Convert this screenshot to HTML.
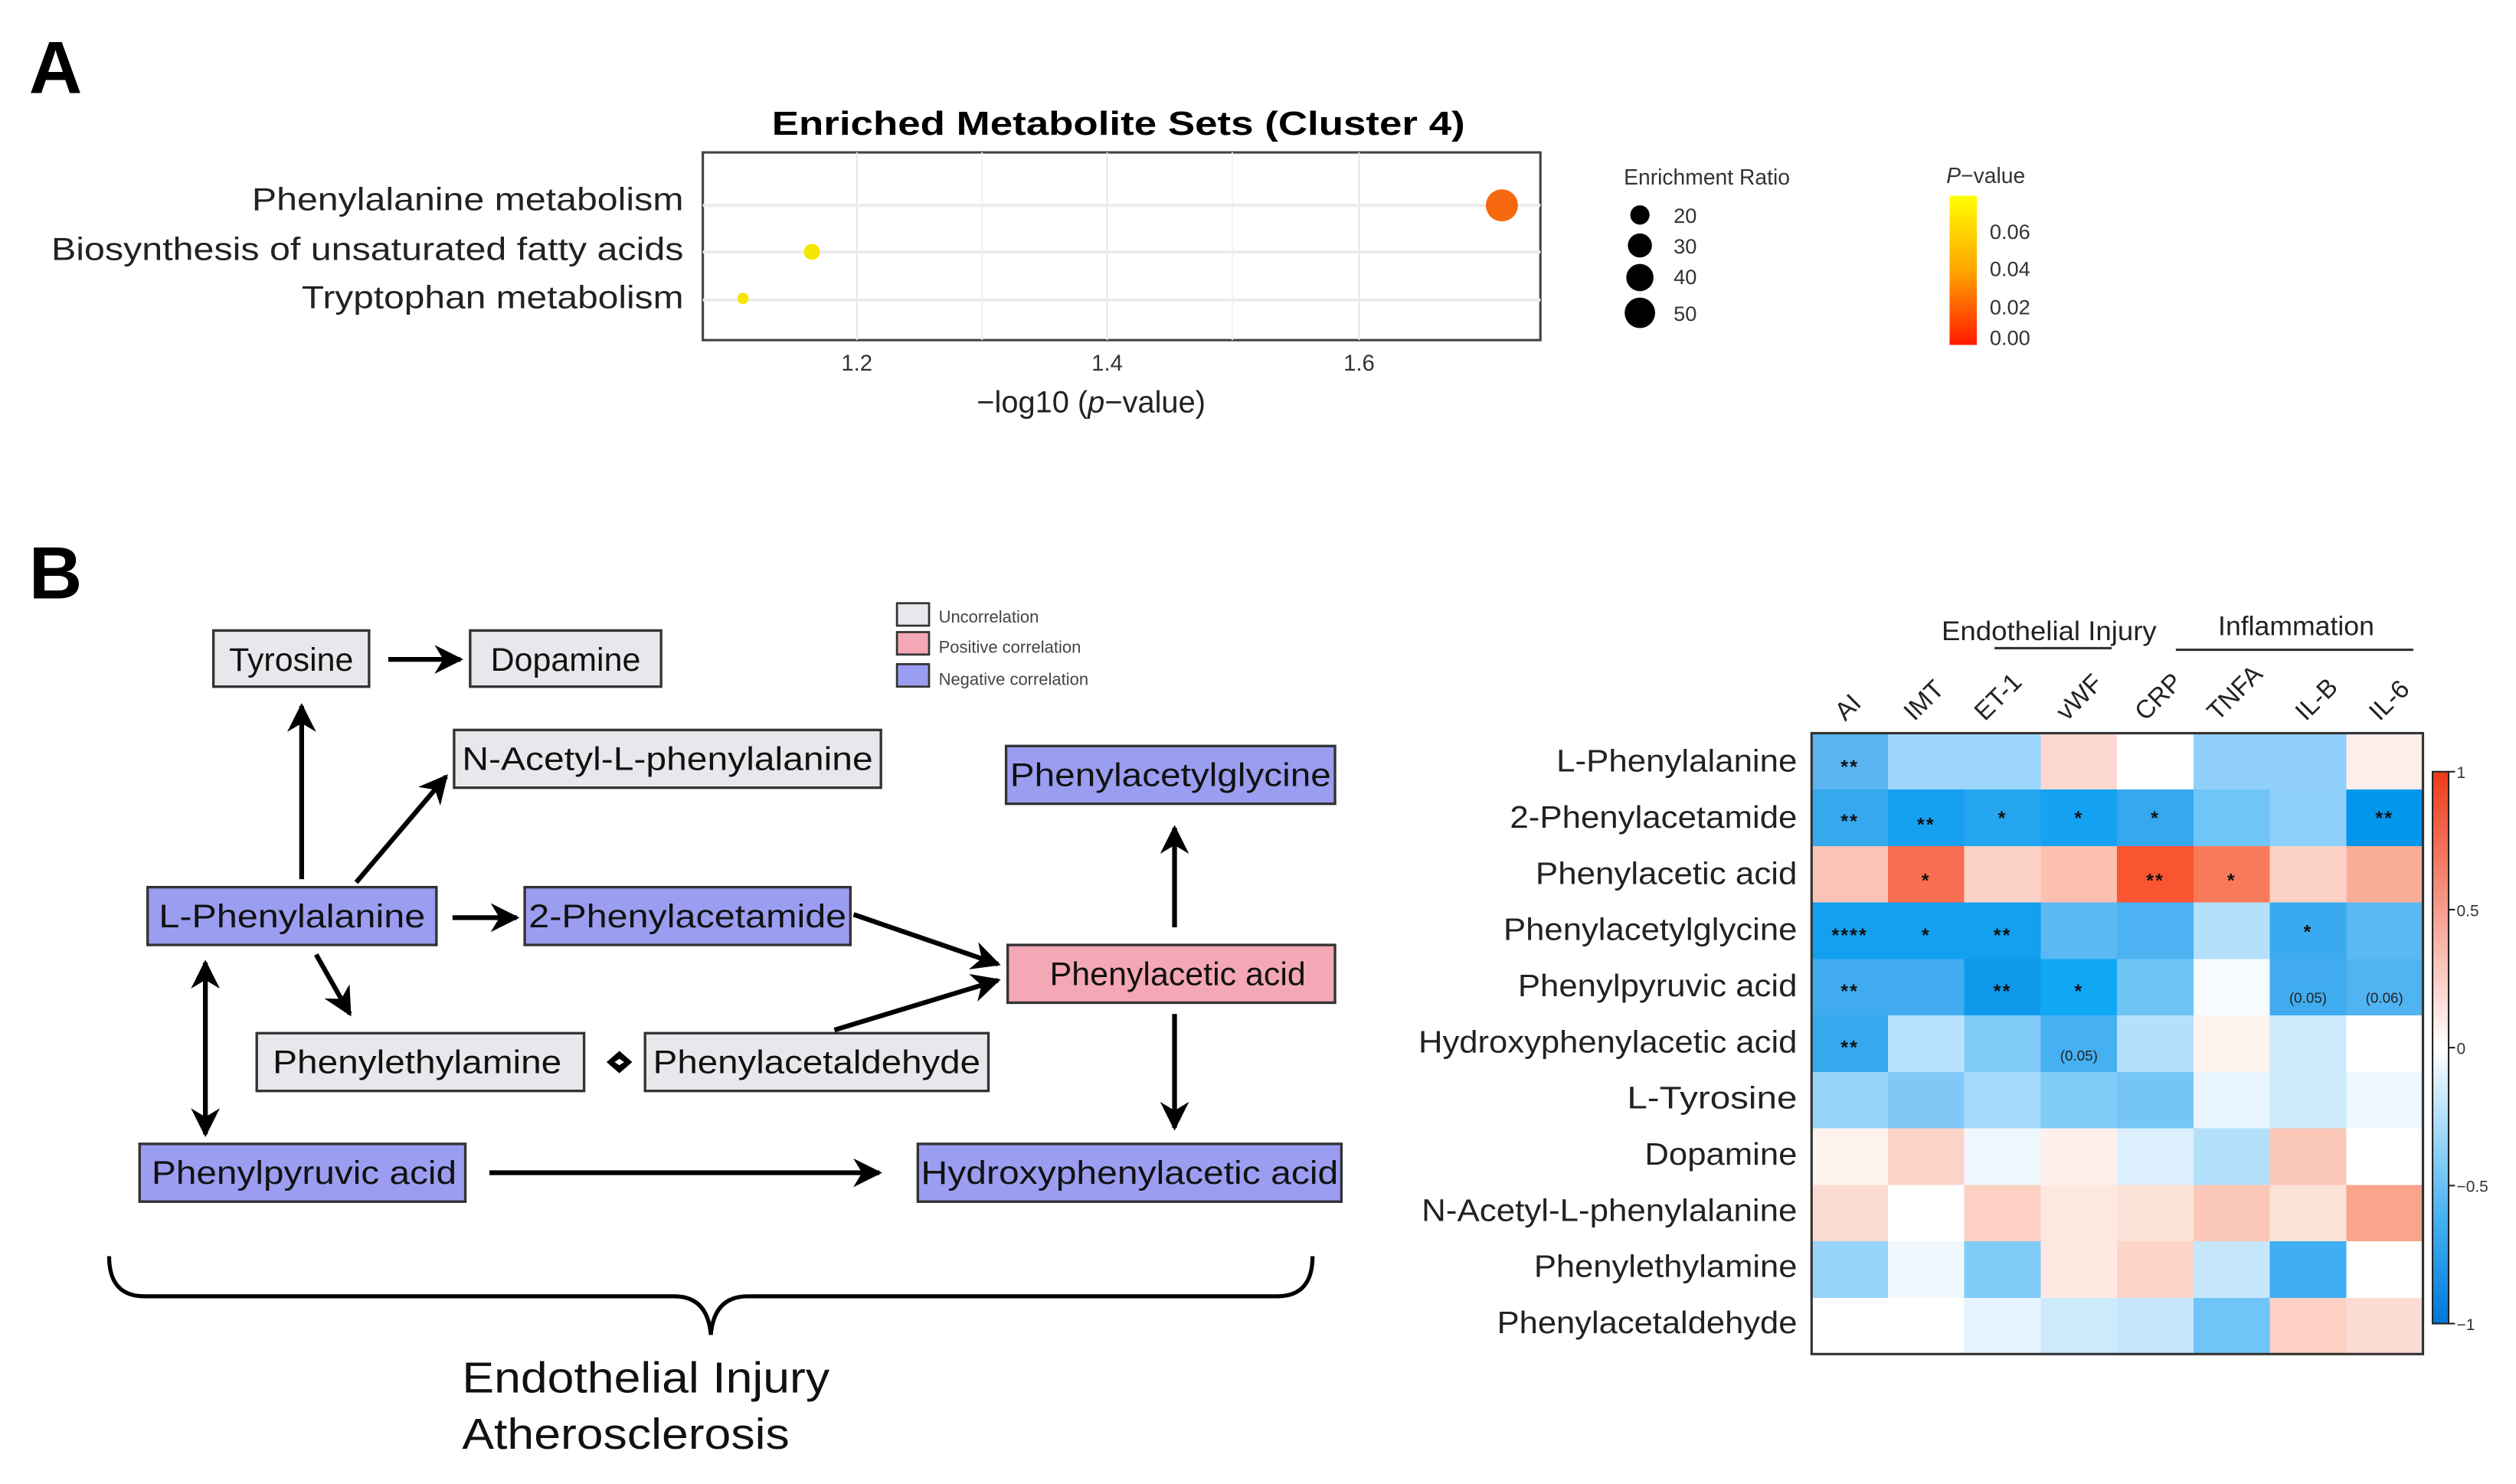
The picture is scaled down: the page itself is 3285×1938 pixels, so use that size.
<!DOCTYPE html>
<html><head><meta charset="utf-8"><style>
html,body{margin:0;padding:0;background:#fff;}
svg{display:block;font-family:"Liberation Sans",Arial,sans-serif;}
</style></head><body>
<svg width="3285" height="1938" viewBox="0 0 1568 925" preserveAspectRatio="none" xmlns="http://www.w3.org/2000/svg">
<defs>
<marker id="ah" viewBox="0 0 10 10" refX="9" refY="5" markerWidth="6" markerHeight="6" orient="auto-start-reverse"><path d="M0,0 L10,5 L0,10 L3,5 z" fill="#000"/></marker>
<linearGradient id="pv" x1="0" y1="0" x2="0" y2="1"><stop offset="0" stop-color="#ffff00"/><stop offset="0.5" stop-color="#ffa500"/><stop offset="1" stop-color="#ff1a00"/></linearGradient>
<linearGradient id="cb" x1="0" y1="0" x2="0" y2="1"><stop offset="0" stop-color="#ee3a1a"/><stop offset="0.5" stop-color="#ffffff"/><stop offset="0.8" stop-color="#4ab4f2"/><stop offset="1" stop-color="#0077d8"/></linearGradient>
</defs>
<rect width="1568" height="925" fill="#fff"/>
<!-- Panel A -->
<text x="18" y="58" font-size="46" font-weight="bold">A</text>
<text x="697" y="84" font-size="21" font-weight="bold" text-anchor="middle" textLength="432" lengthAdjust="spacingAndGlyphs">Enriched Metabolite Sets (Cluster 4)</text>
<rect x="438" y="95" width="522" height="117" fill="#fff" stroke="#444" stroke-width="1.5"/>
<g stroke="#e6e6e6" stroke-width="1">
<line x1="534" y1="95" x2="534" y2="212"/><line x1="690" y1="95" x2="690" y2="212"/><line x1="847" y1="95" x2="847" y2="212"/>
<line x1="612" y1="95" x2="612" y2="212" stroke="#f2f2f2"/><line x1="768" y1="95" x2="768" y2="212" stroke="#f2f2f2"/>
</g>
<g stroke="#ececec" stroke-width="2"><line x1="438" y1="128" x2="960" y2="128"/><line x1="438" y1="157" x2="960" y2="157"/><line x1="438" y1="187" x2="960" y2="187"/></g>
<circle cx="936" cy="128" r="10" fill="#f5680e"/>
<circle cx="506" cy="157" r="5" fill="#f5e600"/>
<circle cx="463" cy="186" r="3.5" fill="#f5e600"/>
<g font-size="20" text-anchor="end" fill="#222">
<text x="426" y="131" textLength="269" lengthAdjust="spacingAndGlyphs">Phenylalanine metabolism</text>
<text x="426" y="162" textLength="394" lengthAdjust="spacingAndGlyphs">Biosynthesis of unsaturated fatty acids</text>
<text x="426" y="192" textLength="238" lengthAdjust="spacingAndGlyphs">Tryptophan metabolism</text>
</g>
<g font-size="14" text-anchor="middle" fill="#333"><text x="534" y="231">1.2</text><text x="690" y="231">1.4</text><text x="847" y="231">1.6</text></g>
<text x="680" y="257" font-size="19" text-anchor="middle" fill="#222">−log10 (<tspan font-style="italic">p</tspan>−value)</text>
<text x="1012" y="115" font-size="13.5" fill="#333">Enrichment Ratio</text>
<circle cx="1022" cy="134" r="6" fill="#000"/><circle cx="1022" cy="153" r="7.5" fill="#000"/><circle cx="1022" cy="173" r="8.5" fill="#000"/><circle cx="1022" cy="195" r="9.5" fill="#000"/>
<g font-size="13" fill="#333"><text x="1043" y="139">20</text><text x="1043" y="158">30</text><text x="1043" y="177">40</text><text x="1043" y="200">50</text></g>
<text x="1213" y="114" font-size="13.5" fill="#333"><tspan font-style="italic">P</tspan>−value</text>
<rect x="1215" y="122" width="17" height="93" fill="url(#pv)"/>
<g font-size="13" fill="#333"><text x="1240" y="149">0.06</text><text x="1240" y="172">0.04</text><text x="1240" y="196">0.02</text><text x="1240" y="215">0.00</text></g>

<!-- Panel B -->
<text x="18" y="373" font-size="46" font-weight="bold">B</text>
<g stroke="#333" stroke-width="1.3">
<rect x="559" y="376" width="20" height="14" fill="#e8e8ec"/>
<rect x="559" y="394" width="20" height="14" fill="#f4a7b4"/>
<rect x="559" y="414" width="20" height="14" fill="#9a9df0"/>
</g>
<g font-size="10.5" fill="#444"><text x="585" y="388">Uncorrelation</text><text x="585" y="407">Positive correlation</text><text x="585" y="427">Negative correlation</text></g>

<g stroke="#333" stroke-width="1.6">
<rect x="133" y="393" width="97" height="35" fill="#e8e8ec"/>
<rect x="293" y="393" width="119" height="35" fill="#e8e8ec"/>
<rect x="283" y="455" width="266" height="36" fill="#e8e8ec"/>
<rect x="92" y="553" width="180" height="36" fill="#9a9df0"/>
<rect x="327" y="553" width="203" height="36" fill="#9a9df0"/>
<rect x="627" y="465" width="205" height="36" fill="#9a9df0"/>
<rect x="628" y="589" width="204" height="36" fill="#f4a7b4"/>
<rect x="160" y="644" width="204" height="36" fill="#e8e8ec"/>
<rect x="402" y="644" width="214" height="36" fill="#e8e8ec"/>
<rect x="87" y="713" width="203" height="36" fill="#9a9df0"/>
<rect x="572" y="713" width="264" height="36" fill="#9a9df0"/>
</g>
<g font-size="20.5" text-anchor="middle" fill="#111">
<text x="181.5" y="418">Tyrosine</text>
<text x="352.5" y="418">Dopamine</text>
<text x="416" y="480" textLength="256" lengthAdjust="spacingAndGlyphs">N-Acetyl-L-phenylalanine</text>
<text x="182" y="578" textLength="166" lengthAdjust="spacingAndGlyphs">L-Phenylalanine</text>
<text x="428.5" y="578" textLength="198" lengthAdjust="spacingAndGlyphs">2-Phenylacetamide</text>
<text x="729.5" y="490" textLength="200" lengthAdjust="spacingAndGlyphs">Phenylacetylglycine</text>
<text x="734" y="614">Phenylacetic acid</text>
<text x="260" y="669" textLength="180" lengthAdjust="spacingAndGlyphs">Phenylethylamine</text>
<text x="509" y="669" textLength="204" lengthAdjust="spacingAndGlyphs">Phenylacetaldehyde</text>
<text x="189.5" y="738" textLength="190" lengthAdjust="spacingAndGlyphs">Phenylpyruvic acid</text>
<text x="704" y="738" textLength="260" lengthAdjust="spacingAndGlyphs">Hydroxyphenylacetic acid</text>
</g>
<g stroke="#000" stroke-width="3" fill="none" marker-end="url(#ah)">
<line x1="242" y1="411" x2="287" y2="411"/>
<line x1="188" y1="548" x2="188" y2="440"/>
<line x1="222" y1="550" x2="278" y2="484"/>
<line x1="282" y1="572" x2="322" y2="572"/>
<line x1="197" y1="595" x2="218" y2="632"/>
<line x1="128" y1="600" x2="128" y2="707" marker-start="url(#ah)"/>
<line x1="532" y1="570" x2="622" y2="601"/>
<line x1="520" y1="642" x2="622" y2="611"/>
<line x1="732" y1="578" x2="732" y2="516"/>
<line x1="732" y1="632" x2="732" y2="703"/>
<line x1="305" y1="731" x2="548" y2="731"/>
</g>
<path d="M378,662 L386,655 L394,662 L386,669 z" fill="#000"/>
<path d="M383,662 L386,660 L389,662 L386,664z" fill="#fff"/>
<path d="M68,783 Q68,808 90,808 L420,808 Q441,808 443,832 Q445,808 466,808 L796,808 Q818,808 818,783" fill="none" stroke="#000" stroke-width="2.5"/>
<g font-size="27" fill="#111"><text x="288" y="868" textLength="229" lengthAdjust="spacingAndGlyphs">Endothelial Injury</text><text x="288" y="903" textLength="204" lengthAdjust="spacingAndGlyphs">Atherosclerosis</text></g>

<!-- Heatmap -->
<text x="1277" y="399" font-size="17" text-anchor="middle" fill="#222" textLength="134" lengthAdjust="spacingAndGlyphs">Endothelial Injury</text>
<text x="1431" y="396" font-size="17" text-anchor="middle" fill="#222">Inflammation</text>
<line x1="1243" y1="404" x2="1316" y2="404" stroke="#333" stroke-width="1.5"/>
<line x1="1356" y1="405" x2="1504" y2="405" stroke="#333" stroke-width="1.5"/>
<g font-size="16" fill="#222">
<text transform="translate(1150,450) rotate(-45)">AI</text>
<text transform="translate(1193,450) rotate(-45)">IMT</text>
<text transform="translate(1237,450) rotate(-45)">ET-1</text>
<text transform="translate(1288,450) rotate(-45)">vWF</text>
<text transform="translate(1337,450) rotate(-45)">CRP</text>
<text transform="translate(1382,450) rotate(-45)">TNFA</text>
<text transform="translate(1437,450) rotate(-45)">IL-B</text>
<text transform="translate(1483,450) rotate(-45)">IL-6</text>
</g>
<g font-size="19.5" text-anchor="end" fill="#222" lengthAdjust="spacingAndGlyphs">
<text x="1120" y="481" textLength="150" lengthAdjust="spacingAndGlyphs">L-Phenylalanine</text>
<text x="1120" y="516" textLength="179" lengthAdjust="spacingAndGlyphs">2-Phenylacetamide</text>
<text x="1120" y="551" textLength="163" lengthAdjust="spacingAndGlyphs">Phenylacetic acid</text>
<text x="1120" y="586" textLength="183" lengthAdjust="spacingAndGlyphs">Phenylacetylglycine</text>
<text x="1120" y="621" textLength="174" lengthAdjust="spacingAndGlyphs">Phenylpyruvic acid</text>
<text x="1120" y="656" textLength="236" lengthAdjust="spacingAndGlyphs">Hydroxyphenylacetic acid</text>
<text x="1120" y="691" textLength="106" lengthAdjust="spacingAndGlyphs">L-Tyrosine</text>
<text x="1120" y="726" textLength="95" lengthAdjust="spacingAndGlyphs">Dopamine</text>
<text x="1120" y="761" textLength="234" lengthAdjust="spacingAndGlyphs">N-Acetyl-L-phenylalanine</text>
<text x="1120" y="796" textLength="164" lengthAdjust="spacingAndGlyphs">Phenylethylamine</text>
<text x="1120" y="831" textLength="187" lengthAdjust="spacingAndGlyphs">Phenylacetaldehyde</text>
</g>
<g transform="translate(1129,457)">
<g shape-rendering="crispEdges">
<rect x="0" y="0" width="48" height="36" fill="#5ab4f0"/><rect x="47.6" y="0" width="48" height="36" fill="#9dd6fb"/><rect x="95.2" y="0" width="48" height="36" fill="#9dd6fb"/><rect x="142.8" y="0" width="48" height="36" fill="#fcd8d0"/><rect x="190.4" y="0" width="48" height="36" fill="#ffffff"/><rect x="238" y="0" width="48" height="36" fill="#90d0fb"/><rect x="285.6" y="0" width="48" height="36" fill="#90d0fb"/><rect x="333.2" y="0" width="48" height="36" fill="#fdeee9"/>
<rect x="0" y="35.2" width="48" height="36" fill="#35a8ee"/><rect x="47.6" y="35.2" width="48" height="36" fill="#15a0f0"/><rect x="95.2" y="35.2" width="48" height="36" fill="#25a5f0"/><rect x="142.8" y="35.2" width="48" height="36" fill="#15a2f2"/><rect x="190.4" y="35.2" width="48" height="36" fill="#35a8ee"/><rect x="238" y="35.2" width="48" height="36" fill="#70c5f8"/><rect x="285.6" y="35.2" width="48" height="36" fill="#8fd0fa"/><rect x="333.2" y="35.2" width="48" height="36" fill="#0096ea"/>
<rect x="0" y="70.4" width="48" height="36" fill="#fbc3b5"/><rect x="47.6" y="70.4" width="48" height="36" fill="#f86e50"/><rect x="95.2" y="70.4" width="48" height="36" fill="#fcd2c6"/><rect x="142.8" y="70.4" width="48" height="36" fill="#fbc0b0"/><rect x="190.4" y="70.4" width="48" height="36" fill="#f85530"/><rect x="238" y="70.4" width="48" height="36" fill="#f87a5a"/><rect x="285.6" y="70.4" width="48" height="36" fill="#fcd2c6"/><rect x="333.2" y="70.4" width="48" height="36" fill="#faae98"/>
<rect x="0" y="105.6" width="48" height="36" fill="#12a0ef"/><rect x="47.6" y="105.6" width="48" height="36" fill="#12a0ef"/><rect x="95.2" y="105.6" width="48" height="36" fill="#12a0ef"/><rect x="142.8" y="105.6" width="48" height="36" fill="#5ab8f2"/><rect x="190.4" y="105.6" width="48" height="36" fill="#4cb2f2"/><rect x="238" y="105.6" width="48" height="36" fill="#b5e0fb"/><rect x="285.6" y="105.6" width="48" height="36" fill="#3aaaf0"/><rect x="333.2" y="105.6" width="48" height="36" fill="#5ab8f2"/>
<rect x="0" y="140.8" width="48" height="36" fill="#40acef"/><rect x="47.6" y="140.8" width="48" height="36" fill="#40acef"/><rect x="95.2" y="140.8" width="48" height="36" fill="#1099ea"/><rect x="142.8" y="140.8" width="48" height="36" fill="#10a8f5"/><rect x="190.4" y="140.8" width="48" height="36" fill="#6ec4f5"/><rect x="238" y="140.8" width="48" height="36" fill="#f5fbff"/><rect x="285.6" y="140.8" width="48" height="36" fill="#40acef"/><rect x="333.2" y="140.8" width="48" height="36" fill="#50b3f2"/>
<rect x="0" y="176" width="48" height="36" fill="#35a8ee"/><rect x="47.6" y="176" width="48" height="36" fill="#b8e2fb"/><rect x="95.2" y="176" width="48" height="36" fill="#80cbf8"/><rect x="142.8" y="176" width="48" height="36" fill="#45b0f2"/><rect x="190.4" y="176" width="48" height="36" fill="#b5e0fb"/><rect x="238" y="176" width="48" height="36" fill="#fef3ee"/><rect x="285.6" y="176" width="48" height="36" fill="#cdeafc"/><rect x="333.2" y="176" width="48" height="36" fill="#ffffff"/>
<rect x="0" y="211.2" width="48" height="36" fill="#98d3fa"/><rect x="47.6" y="211.2" width="48" height="36" fill="#80c9f7"/><rect x="95.2" y="211.2" width="48" height="36" fill="#a5d9fb"/><rect x="142.8" y="211.2" width="48" height="36" fill="#80cbf8"/><rect x="190.4" y="211.2" width="48" height="36" fill="#75c6f7"/><rect x="238" y="211.2" width="48" height="36" fill="#e8f5fe"/><rect x="285.6" y="211.2" width="48" height="36" fill="#cdeafc"/><rect x="333.2" y="211.2" width="48" height="36" fill="#eef7fd"/>
<rect x="0" y="246.4" width="48" height="36" fill="#fef3ef"/><rect x="47.6" y="246.4" width="48" height="36" fill="#fcd5ca"/><rect x="95.2" y="246.4" width="48" height="36" fill="#eef7fd"/><rect x="142.8" y="246.4" width="48" height="36" fill="#fef0ec"/><rect x="190.4" y="246.4" width="48" height="36" fill="#dbeffd"/><rect x="238" y="246.4" width="48" height="36" fill="#b5e0fb"/><rect x="285.6" y="246.4" width="48" height="36" fill="#fbc8b8"/><rect x="333.2" y="246.4" width="48" height="36" fill="#ffffff"/>
<rect x="0" y="281.6" width="48" height="36" fill="#fcdcd2"/><rect x="47.6" y="281.6" width="48" height="36" fill="#ffffff"/><rect x="95.2" y="281.6" width="48" height="36" fill="#fcd0c2"/><rect x="142.8" y="281.6" width="48" height="36" fill="#fee9e2"/><rect x="190.4" y="281.6" width="48" height="36" fill="#fde2d8"/><rect x="238" y="281.6" width="48" height="36" fill="#fbc8b8"/><rect x="285.6" y="281.6" width="48" height="36" fill="#fde2d8"/><rect x="333.2" y="281.6" width="48" height="36" fill="#f8a58c"/>
<rect x="0" y="316.8" width="48" height="36" fill="#98d3fa"/><rect x="47.6" y="316.8" width="48" height="36" fill="#f0f8fe"/><rect x="95.2" y="316.8" width="48" height="36" fill="#80cbf8"/><rect x="142.8" y="316.8" width="48" height="36" fill="#fee9e2"/><rect x="190.4" y="316.8" width="48" height="36" fill="#fcd5c8"/><rect x="238" y="316.8" width="48" height="36" fill="#c5e7fc"/><rect x="285.6" y="316.8" width="48" height="36" fill="#40aef2"/><rect x="333.2" y="316.8" width="48" height="36" fill="#ffffff"/>
<rect x="0" y="352" width="48" height="35" fill="#ffffff"/><rect x="47.6" y="352" width="48" height="35" fill="#ffffff"/><rect x="95.2" y="352" width="48" height="35" fill="#e5f4fe"/><rect x="142.8" y="352" width="48" height="35" fill="#cde9fc"/><rect x="190.4" y="352" width="48" height="35" fill="#c5e5fc"/><rect x="238" y="352" width="48" height="35" fill="#70c5f8"/><rect x="285.6" y="352" width="48" height="35" fill="#fcd0c2"/><rect x="333.2" y="352" width="48" height="35" fill="#fcdcd2"/>
</g>
<rect x="0" y="0" width="381" height="387" fill="none" stroke="#333" stroke-width="1.5"/>
<g font-size="12" font-weight="bold" text-anchor="middle" fill="#111" letter-spacing="1">
<text x="23.8" y="25">**</text>
<text x="23.8" y="59">**</text><text x="71.4" y="61">**</text><text x="119" y="57">*</text><text x="166.6" y="57">*</text><text x="214.2" y="57">*</text><text x="357" y="57">**</text>
<text x="71.4" y="96">*</text><text x="214.2" y="96">**</text><text x="261.8" y="96">*</text>
<text x="23.8" y="130">****</text><text x="71.4" y="130">*</text><text x="119" y="130">**</text><text x="309.4" y="128">*</text>
<text x="23.8" y="165">**</text><text x="119" y="165">**</text><text x="166.6" y="165">*</text>
<text x="23.8" y="200">**</text>
</g>
<g font-size="9" text-anchor="middle" fill="#222">
<text x="309.4" y="168">(0.05)</text><text x="357" y="168">(0.06)</text><text x="166.6" y="204">(0.05)</text>
</g>
</g>
<rect x="1516" y="481" width="10" height="344" fill="url(#cb)" stroke="#222" stroke-width="1"/>
<g stroke="#222" stroke-width="1"><line x1="1526" y1="481" x2="1530" y2="481"/><line x1="1526" y1="567" x2="1530" y2="567"/><line x1="1526" y1="653" x2="1530" y2="653"/><line x1="1526" y1="739" x2="1530" y2="739"/><line x1="1526" y1="825" x2="1530" y2="825"/></g>
<g font-size="10" fill="#333"><text x="1531" y="485">1</text><text x="1531" y="571">0.5</text><text x="1531" y="657">0</text><text x="1531" y="743">−0.5</text><text x="1531" y="829">−1</text></g>
</svg>
</body></html>
